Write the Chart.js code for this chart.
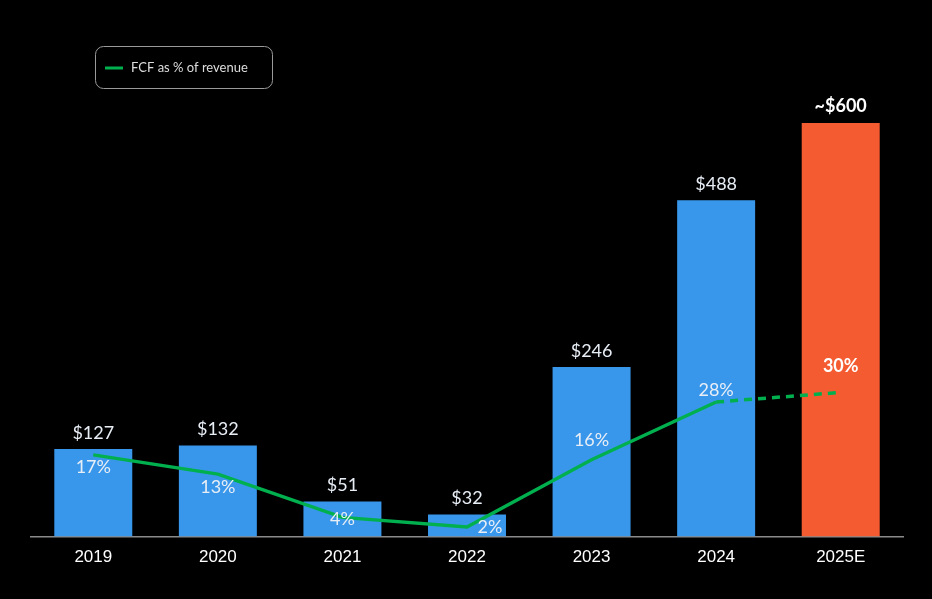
<!DOCTYPE html>
<html lang="en">
<head>
  <meta charset="UTF-8" />
  <title>Free cash flow</title>
  <script src="https://cdn.jsdelivr.net/npm/chart.js"></script>
  <style>
    html, body {
      margin: 0;
      padding: 0;
      background: #000;
    }
    .wrap {
      width: 932px;
      height: 599px;
    }
  </style>
</head>
<body>
  <div class="wrap"><canvas id="fcfChart"></canvas></div>

  <script>
    const years = ['2019', '2020', '2021', '2022', '2023', '2024', '2025E'];
    const fcfValues = [127, 132, 51, 32, 246, 488, 600];
    const fcfLabels = ['$127', '$132', '$51', '$32', '$246', '$488', '~$600'];
    const marginPct = [17, 13, 4, 2, 16, 28, 30];
    const marginLabels = ['17%', '13%', '4%', '2%', '16%', '28%', '30%'];

    const BLUE = '#3897eb';
    const ORANGE = '#f55b31';
    const GREEN = '#00b04f';
    const TEXT = '#e8eef6';

    // where the % text sits relative to its line point (dx, dy)
    const pctShift = [[0, 12], [0, 13], [0, 2], [23, 0], [0, -20], [0, -12], [0, -26]];

    const labelPlugin = {
      id: 'labels',
      afterDatasetsDraw(chart) {
        const ctx = chart.ctx;
        const bars = chart.getDatasetMeta(1).data;
        const pts = chart.getDatasetMeta(0).data;
        ctx.save();
        ctx.textAlign = 'center';
        ctx.textBaseline = 'middle';
        bars.forEach((b, i) => {
          const last = i === bars.length - 1;
          ctx.font = (last ? 'bold ' : '') + '18px Lato, "Open Sans", sans-serif';
          ctx.fillStyle = last ? '#ffffff' : TEXT;
          ctx.fillText(fcfLabels[i], b.x, b.y - (last ? 17 : 16));
        });
        pts.forEach((p, i) => {
          const last = i === pts.length - 1;
          ctx.font = (last ? 'bold ' : '') + '18px Lato, "Open Sans", sans-serif';
          ctx.fillStyle = last ? '#ffffff' : TEXT;
          ctx.fillText(marginLabels[i], p.x + pctShift[i][0], p.y + pctShift[i][1]);
        });

        // legend box
        ctx.strokeStyle = '#9a9a9a';
        ctx.lineWidth = 1;
        ctx.beginPath();
        ctx.roundRect(95.5, 46.5, 177, 42, 8);
        ctx.stroke();
        ctx.strokeStyle = GREEN;
        ctx.lineWidth = 3;
        ctx.beginPath();
        ctx.moveTo(105, 68);
        ctx.lineTo(123, 68);
        ctx.stroke();
        ctx.textAlign = 'left';
        ctx.font = '13px Lato, "Open Sans", sans-serif';
        ctx.fillStyle = '#dddddd';
        ctx.fillText(chart.data.datasets[0].label, 131, 68);
        ctx.restore();
      }
    };

    const ctx = document.getElementById('fcfChart').getContext('2d');
    new Chart(ctx, {
      data: {
        labels: years,
        datasets: [
          {
            type: 'line',
            label: 'FCF as % of revenue',
            data: marginPct,
            yAxisID: 'y1',
            borderColor: GREEN,
            borderWidth: 3.5,
            pointRadius: 0,
            tension: 0,
            order: 0,
            segment: {
              borderDash: c => c.p1DataIndex === marginPct.length - 1 ? [8, 6] : undefined
            }
          },
          {
            type: 'bar',
            label: 'Free cash flow ($M)',
            data: fcfValues,
            yAxisID: 'y',
            backgroundColor: years.map((y, i) => i === years.length - 1 ? ORANGE : BLUE),
            categoryPercentage: 1,
            barPercentage: 0.626,
            order: 1
          }
        ]
      },
      options: {
        responsive: true,
        maintainAspectRatio: false,
        animation: false,
        layout: { padding: { left: 31, right: 29, top: 30, bottom: 28 } },
        scales: {
          x: {
            grid: { display: false },
            border: { color: '#8a8a8a', width: 1.5 },
            ticks: {
              color: '#ffffff',
              padding: 3,
              font: { family: '"Liberation Sans", Arial, sans-serif', size: 17 }
            }
          },
          y: { display: false, min: 0, max: 735 },
          y1: { display: false, min: 0, max: 105.4 }
        },
        plugins: {
          legend: { display: false },
          tooltip: { enabled: false }
        }
      },
      plugins: [labelPlugin]
    });
  </script>
</body>
</html>
